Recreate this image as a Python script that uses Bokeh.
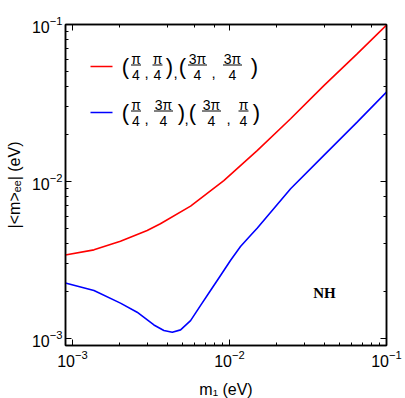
from bokeh.plotting import figure
from bokeh.models import Range1d, LogAxis, LogTicker, Label
from bokeh.embed import file_html
from bokeh.resources import INLINE

# ---- data ----
red_m1 = [9.0e-4, 1.37e-3, 2.02e-3, 2.99e-3, 3.63e-3, 5.65e-3, 9.2e-3,
          1.5e-2, 2.45e-2, 3.99e-2, 6.5e-2, 1.0e-1]
red_mee = [3.40e-3, 3.67e-3, 4.17e-3, 4.88e-3, 5.38e-3, 6.97e-3, 1.014e-2,
           1.574e-2, 2.51e-2, 4.08e-2, 6.50e-2, 9.91e-2]

blue_m1 = [9.0e-4, 1.37e-3, 2.02e-3, 2.58e-3, 3.30e-3, 3.82e-3, 4.32e-3,
           4.88e-3, 5.65e-3, 6.53e-3, 7.57e-3, 8.77e-3, 1.014e-2, 1.175e-2,
           1.36e-2, 1.5e-2, 2.45e-2, 3.99e-2, 6.5e-2, 1.0e-1]
blue_mee = [2.26e-3, 2.02e-3, 1.68e-3, 1.47e-3, 1.22e-3, 1.125e-3, 1.096e-3,
            1.135e-3, 1.30e-3, 1.62e-3, 2.02e-3, 2.52e-3, 3.14e-3, 3.85e-3,
            4.53e-3, 5.04e-3, 8.99e-3, 1.466e-2, 2.39e-2, 3.71e-2]

x_title = "m₁ (eV)"
y_title = "|<m>ₑₑ| (eV)"
region_label = "NH"

# ---- layout ----
FL, FT, FS = 65, 24, 321          # frame left/top/size in page pixels
LO = -3 - 7 / 157                 # log10 of axis start
HI = -1


def X(px):
    return 10 ** (LO + (px - FL) * (HI - LO) / FS)


def Y(py):
    return 10 ** (HI - (py - FT) * (HI - LO) / FS)


p = figure(frame_width=FS, frame_height=FS,
           x_axis_type="log", y_axis_type="log",
           x_range=Range1d(10 ** LO, 10 ** HI), y_range=Range1d(10 ** LO, 10 ** HI),
           output_backend="svg", toolbar_location=None,
           min_border_left=65, min_border_right=19, min_border_top=24,
           min_border_bottom=52)
p.grid.visible = False
p.outline_line_color = "black"
p.outline_line_width = 1.5
p.background_fill_color = "white"
p.border_fill_color = "white"

bottom = p.below[0]
left = p.left[0]
right = LogAxis(ticker=LogTicker())
above = LogAxis(ticker=LogTicker())
p.add_layout(right, "right")
p.add_layout(above, "above")

for ax in [bottom, left, right, above]:
    ax.major_tick_in = 6
    ax.major_tick_out = 0
    ax.minor_tick_in = 3
    ax.minor_tick_out = 0
    ax.axis_line_color = "black"
    ax.axis_line_width = 1.5
    ax.major_tick_line_color = "black"
    ax.minor_tick_line_color = "black"
    ax.major_label_text_font = "Liberation Sans"
    ax.major_label_text_font_size = "16px"
    ax.major_label_text_color = "black"

for ax in [right, above]:
    ax.major_label_text_font_size = "1px"
    ax.major_label_text_color = None
    ax.major_label_standoff = 0

bottom.major_label_standoff = 4
left.major_label_standoff = 3

bottom.axis_label = x_title
left.axis_label = y_title
for ax in [bottom, left]:
    ax.axis_label_text_font = "Liberation Sans"
    ax.axis_label_text_font_size = "16px"
    ax.axis_label_text_font_style = "normal"
    ax.axis_label_text_color = "black"
bottom.axis_label_standoff = 11
left.axis_label_standoff = 6

p.line(red_m1, red_mee, line_color="red", line_width=1.6)
p.line(blue_m1, blue_mee, line_color="blue", line_width=1.6)


def lab(px, py, text, size, font="Liberation Sans", style="normal",
        align="center", baseline="middle"):
    p.add_layout(Label(x=X(px), y=Y(py), text=text, text_font=font,
                       text_font_size=f"{size}px", text_font_style=style,
                       text_align=align, text_baseline=baseline,
                       text_color="black"))


def frac(px, yc, num):
    lab(px, yc - 8, num, 14)
    lab(px, yc + 8.5, "4", 14)
    w = 10 if len(num) == 1 else 19
    p.segment(x0=[X(px - w / 2)], y0=[Y(yc - 1.5)], x1=[X(px + w / 2)],
              y1=[Y(yc - 1.5)], line_color="black", line_width=1)


def entry(yc, color, parts):
    p.segment(x0=[X(90)], y0=[Y(yc)], x1=[X(112)], y1=[Y(yc)],
              line_color=color, line_width=1.6)
    for px, t in parts:
        if t in ("(", ")"):
            lab(px, yc, t, 22)
        elif t == ",":
            lab(px, yc + 6, t, 15)
        else:
            frac(px, yc, t)


entry(66, "red", [(125, "("), (135.5, "π"), (146, ","), (157, "π"), (169, ")"),
                  (175, ","), (182, "("), (197, "3π"), (213, ","), (232, "3π"),
                  (254, ")")])
entry(112, "blue", [(125, "("), (135.5, "π"), (146, ","), (163, "3π"), (181, ")"),
                    (186, ","), (192, "("), (211, "3π"), (228, ","), (243, "π"),
                    (256, ")")])

lab(324, 292, region_label, 15, font="Liberation Serif", style="bold")

open("out.html", "w").write(file_html(p, INLINE))
